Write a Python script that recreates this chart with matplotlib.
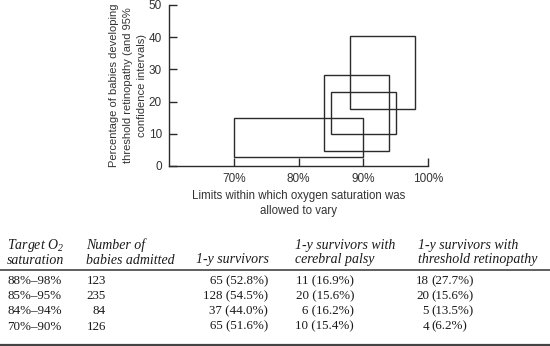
import matplotlib
matplotlib.use("Agg")
import matplotlib.pyplot as plt
from matplotlib.patches import Rectangle
from matplotlib.lines import Line2D

# ---- data ----
targets = ["88%–98%", "85%–95%", "84%–94%", "70%–90%"]
range_lo = [88, 85, 84, 70]
range_hi = [98, 95, 94, 90]
ci_lo = [17.6, 10.0, 4.8, 2.8]
ci_hi = [40.5, 23.0, 28.2, 15.0]

admitted = [123, 235, 84, 126]
survivors_n = [65, 128, 37, 65]
survivors_pct = [52.8, 54.5, 44.0, 51.6]
cp_n = [11, 20, 6, 10]
cp_pct = [16.9, 15.6, 16.2, 15.4]
rop_n = [18, 20, 5, 4]
rop_pct = [27.7, 15.6, 13.5, 6.2]

xticks = [70, 80, 90, 100]
xticklabels = ["70%", "80%", "90%", "100%"]
yticks = [0, 10, 20, 30, 40, 50]

plt.rcParams['mathtext.fontset'] = 'custom'
plt.rcParams['mathtext.rm'] = 'Liberation Serif:italic'
plt.rcParams['mathtext.it'] = 'Liberation Serif:italic'

W, H = 550, 346
fig = plt.figure(figsize=(W / 100, H / 100), dpi=100)
fig.patch.set_facecolor("white")

lc = "#2b2b2b"
tc = "#333333"

# axes in pixel coordinates
left_px, right_px, top_px, bot_px = 169, 428, 5, 166
ax = fig.add_axes([left_px / W, 1 - bot_px / H, (right_px - left_px) / W, (bot_px - top_px) / H])
ax.set_xlim(60, 100)
ax.set_ylim(0, 50)
for s in ["top", "right"]:
    ax.spines[s].set_visible(False)
for s in ["left", "bottom"]:
    ax.spines[s].set_color(lc)
    ax.spines[s].set_linewidth(1.0)
ax.patch.set_alpha(0)

for lo, hi, cl, ch in zip(range_lo, range_hi, ci_lo, ci_hi):
    ax.add_patch(Rectangle((lo, cl), hi - lo, ch - cl, fill=False, edgecolor=lc,
                           linewidth=1.0, clip_on=False))

ax.set_xticks(xticks)
ax.set_xticklabels(xticklabels)
ax.set_yticks(yticks)
ax.tick_params(axis="both", direction="in", length=6, width=1.0, color=lc,
               labelcolor=tc, labelsize=8.5)
ax.tick_params(axis="x", pad=5)
ax.tick_params(axis="y", pad=5)
for lab in ax.get_xticklabels() + ax.get_yticklabels():
    lab.set_family("Liberation Sans")

ax.set_xlabel("Limits within which oxygen saturation was\nallowed to vary",
              fontsize=8.3, family="Liberation Sans", color=tc, labelpad=4,
              linespacing=1.25)
ax.set_ylabel("Percentage of babies developing\nthreshold retinopathy (and 95%\nconfidence intervals)",
              fontsize=8.0, family="Liberation Sans", color=tc,
              linespacing=1.5)
ax.yaxis.set_label_coords((147 - left_px) / (right_px - left_px), 0.5)

# ---- table ----
def fx(px):
    return px / W

def fy(py):
    return 1 - py / H

hdr = dict(fontsize=10, family="Liberation Serif", style="italic", color="#1a1a1a", va="center")
body = dict(fontsize=9.4, family="Liberation Serif", color="#1a1a1a", va="center")

h1, h2 = 245, 260
fig.text(fx(7), fy(h1), "Target O$_2$", ha="left", **hdr)
fig.text(fx(7), fy(h2), "saturation", ha="left", **hdr)
fig.text(fx(86), fy(h1), "Number of", ha="left", **hdr)
fig.text(fx(86), fy(h2), "babies admitted", ha="left", **hdr)
fig.text(fx(196), fy(h2), "1-y survivors", ha="left", **hdr)
fig.text(fx(295), fy(h1), "1-y survivors with", ha="left", **hdr)
fig.text(fx(295), fy(h2), "cerebral palsy", ha="left", **hdr)
fig.text(fx(418), fy(h1), "1-y survivors with", ha="left", **hdr)
fig.text(fx(418), fy(h2), "threshold retinopathy", ha="left", **hdr)

fig.add_artist(Line2D([0, 1], [fy(269.5), fy(269.5)], color="#444444", linewidth=1.2))
fig.add_artist(Line2D([0, 1], [fy(345), fy(345)], color="#444444", linewidth=1.6))

rows_y = [281, 296, 311, 326.5]
for i, yy in enumerate(rows_y):
    fig.text(fx(7), fy(yy), targets[i], ha="left", **body)
    fig.text(fx(106), fy(yy), f"{admitted[i]}", ha="right", **body)
    fig.text(fx(268), fy(yy), f"{survivors_n[i]} ({survivors_pct[i]:.1f}%)", ha="right", **body)
    fig.text(fx(354), fy(yy), f"{cp_n[i]} ({cp_pct[i]:.1f}%)", ha="right", **body)
    fig.text(fx(429), fy(yy), f"{rop_n[i]}", ha="right", **body)
    fig.text(fx(431), fy(yy), f"({rop_pct[i]:.1f}%)", ha="left", **body)

fig.savefig("out.png", dpi=100, facecolor="white")
